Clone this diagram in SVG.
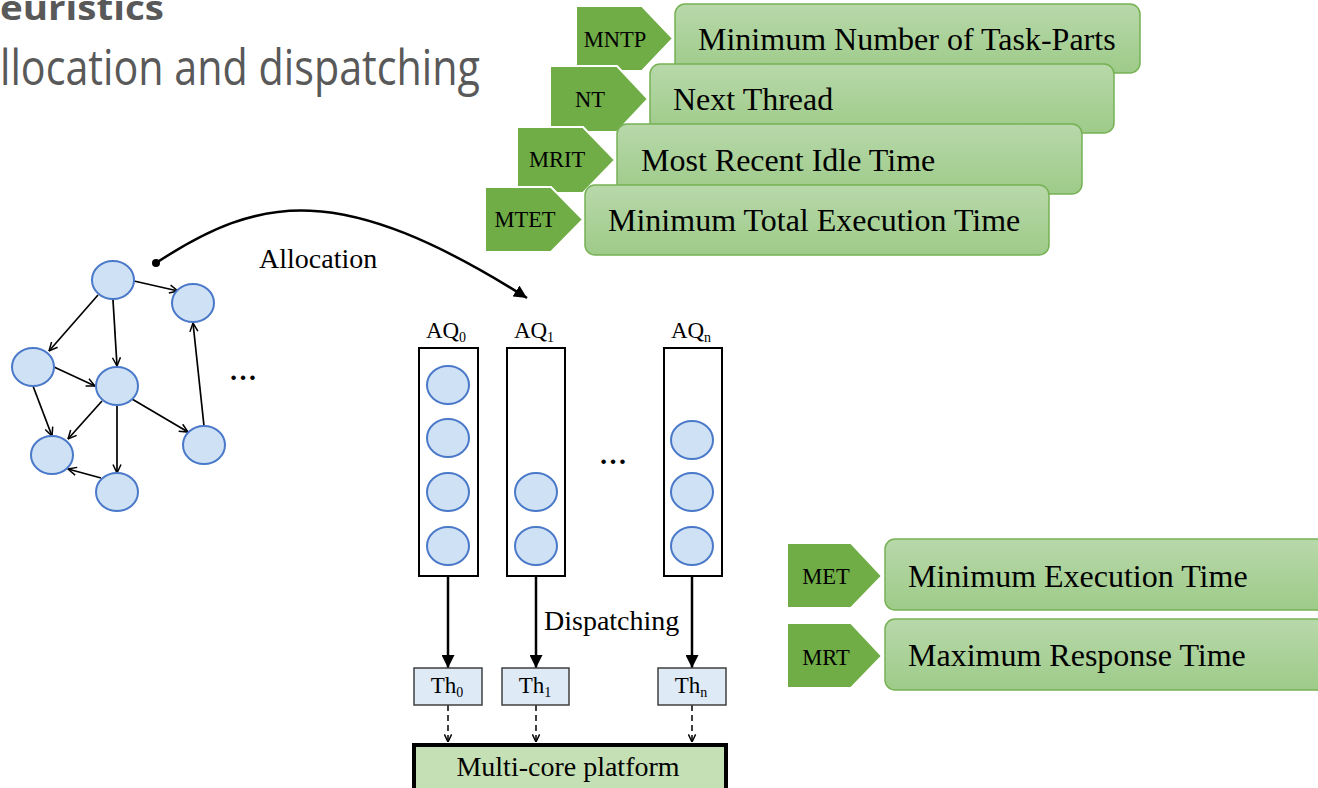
<svg xmlns="http://www.w3.org/2000/svg" width="1318" height="788" viewBox="0 0 1318 788">
<defs>
<linearGradient id="gBox" x1="0" y1="0" x2="0" y2="1">
<stop offset="0" stop-color="#B8D8AA"/>
<stop offset="1" stop-color="#9ECB89"/>
</linearGradient>
<marker id="open" viewBox="0 0 10 10" refX="9.5" refY="5" markerWidth="10" markerHeight="10" markerUnits="userSpaceOnUse" orient="auto">
<path d="M1,1 L9.5,5 L1,9" fill="none" stroke="#000" stroke-width="1.5"/>
</marker>
<marker id="openS" viewBox="0 0 10 10" refX="9.5" refY="5" markerWidth="9" markerHeight="9" markerUnits="userSpaceOnUse" orient="auto">
<path d="M1,1 L9.5,5 L1,9" fill="none" stroke="#000" stroke-width="1.6"/>
</marker>
<marker id="solid" viewBox="0 0 12 12" refX="12" refY="6" markerWidth="13" markerHeight="13" markerUnits="userSpaceOnUse" orient="auto">
<path d="M0,0 L12,6 L0,12 z" fill="#000"/>
</marker>
</defs>
<style>
.box{fill:url(#gBox);stroke:#76B154;stroke-width:1.5}
.tag{fill:#70AD47;stroke:#fff;stroke-width:2}
.tt{font-family:"Liberation Serif",serif;font-size:22.5px;fill:#000;text-anchor:middle}
.bt{font-family:"Liberation Serif",serif;font-size:32px;fill:#000}
.lbl{font-family:"Liberation Serif",serif;font-size:28px;fill:#000}
.q{font-family:"Liberation Serif",serif;font-size:23px;fill:#000;text-anchor:middle}
.node{fill:#CFE1F4;stroke:#4A79C9;stroke-width:2}
.e{stroke:#000;stroke-width:1.7;fill:none;marker-end:url(#open)}
.aq{fill:#fff;stroke:#000;stroke-width:2}
.th{fill:#DEEBF7;stroke:#404040;stroke-width:1.5}
.disp{stroke:#000;stroke-width:2.5;fill:none;marker-end:url(#solid)}
.dash{stroke:#000;stroke-width:1.5;fill:none;stroke-dasharray:6,4;marker-end:url(#openS)}
.hd{font-family:"Open Sans",sans-serif;fill:#595959}
</style>

<g id="header">
<text class="hd" x="0" y="20" font-size="34" font-weight="bold" textLength="164" lengthAdjust="spacingAndGlyphs">euristics</text>
<text class="hd" x="0" y="85" font-size="49" textLength="480" lengthAdjust="spacingAndGlyphs">llocation and dispatching</text>
</g>

<g id="h-mntp">
<rect class="box" x="675" y="4" width="465" height="69" rx="10"/>
<polygon class="tag" points="576,6 642,6 673,38.5 642,71 576,71"/>
<text class="tt" x="615" y="47">MNTP</text>
<text class="bt" x="698" y="50">Minimum Number of Task-Parts</text>
</g>
<g id="h-nt">
<rect class="box" x="650" y="64" width="464" height="69" rx="10"/>
<polygon class="tag" points="550,66 617,66 648,99 617,132 550,132"/>
<text class="tt" x="590" y="107">NT</text>
<text class="bt" x="673" y="110">Next Thread</text>
</g>
<g id="h-mrit">
<rect class="box" x="617" y="124" width="465" height="70" rx="10"/>
<polygon class="tag" points="517,127 583,127 615,160 583,193 517,193"/>
<text class="tt" x="557" y="167">MRIT</text>
<text class="bt" x="641" y="171">Most Recent Idle Time</text>
</g>
<g id="h-mtet">
<rect class="box" x="585" y="185" width="464" height="70" rx="10"/>
<polygon class="tag" points="485,187 551,187 583,219.5 551,252 485,252"/>
<text class="tt" x="525" y="227">MTET</text>
<text class="bt" x="608" y="231">Minimum Total Execution Time</text>
</g>

<g id="h-met">
<rect class="box" x="885" y="539" width="445" height="71" rx="10"/>
<polygon class="tag" points="787,543 851,543 882,576 851,608 787,608"/>
<text class="tt" x="826" y="584">MET</text>
<text class="bt" x="908" y="587" font-size="31">Minimum Execution Time</text>
</g>
<g id="h-mrt">
<rect class="box" x="885" y="619" width="445" height="71" rx="10"/>
<polygon class="tag" points="787,623 851,623 882,656 851,688 787,688"/>
<text class="tt" x="826" y="665">MRT</text>
<text class="bt" x="908" y="666" font-size="31">Maximum Response Time</text>
</g>

<g id="connectors">
<line class="e" x1="134" y1="281" x2="178" y2="291"/>
<line class="e" x1="98" y1="295" x2="49" y2="351"/>
<line class="e" x1="113" y1="300" x2="117" y2="366"/>
<line class="e" x1="54" y1="367" x2="95" y2="386"/>
<line class="e" x1="33" y1="386" x2="52" y2="436"/>
<line class="e" x1="102" y1="401" x2="68" y2="439"/>
<line class="e" x1="117" y1="405" x2="117" y2="473"/>
<line class="e" x1="132" y1="399" x2="188" y2="432"/>
<line class="e" x1="204" y1="426" x2="193" y2="323"/>
<line class="e" x1="101" y1="478" x2="68" y2="469"/>
<circle cx="156" cy="263" r="4" fill="#000"/>
<path d="M156,263 C260,195 340,180 527,298" fill="none" stroke="#000" stroke-width="2.5" marker-end="url(#solid)"/>
<line class="disp" x1="448" y1="576" x2="448" y2="668"/>
<line class="disp" x1="536" y1="576" x2="536" y2="668"/>
<line class="disp" x1="692" y1="576" x2="692" y2="668"/>
<line class="dash" x1="448" y1="705" x2="448" y2="742"/>
<line class="dash" x1="536" y1="705" x2="536" y2="742"/>
<line class="dash" x1="692" y1="705" x2="692" y2="742"/>
</g>

<g id="graph">
<ellipse class="node" cx="113" cy="280" rx="21" ry="19"/>
<ellipse class="node" cx="193" cy="303" rx="21" ry="19"/>
<ellipse class="node" cx="33" cy="367" rx="21" ry="19"/>
<ellipse class="node" cx="117" cy="386" rx="21" ry="19"/>
<ellipse class="node" cx="204" cy="445" rx="21" ry="19"/>
<ellipse class="node" cx="52" cy="455" rx="21" ry="19"/>
<ellipse class="node" cx="117" cy="492" rx="21" ry="19"/>
<text class="lbl" x="243" y="380" text-anchor="middle" font-weight="bold">…</text>
</g>

<g id="labels">
<text class="lbl" x="259" y="268">Allocation</text>
<text class="lbl" x="544" y="630">Dispatching</text>
</g>

<g id="aq0">
<rect class="aq" x="419" y="348" width="59" height="228"/>
<text class="q" x="446" y="338">AQ<tspan font-size="14" dy="4">0</tspan></text>
<ellipse class="node" cx="448" cy="385" rx="21" ry="19"/>
<ellipse class="node" cx="448" cy="438" rx="21" ry="19"/>
<ellipse class="node" cx="448" cy="492" rx="21" ry="19"/>
<ellipse class="node" cx="448" cy="546" rx="21" ry="19"/>
</g>
<g id="aq1">
<rect class="aq" x="507" y="348" width="58" height="228"/>
<text class="q" x="534" y="338">AQ<tspan font-size="14" dy="4">1</tspan></text>
<ellipse class="node" cx="536" cy="492" rx="21" ry="19"/>
<ellipse class="node" cx="536" cy="546" rx="21" ry="19"/>
</g>
<g id="dots-aq">
<text class="lbl" x="613" y="464" text-anchor="middle" font-weight="bold">…</text>
</g>
<g id="aqn">
<rect class="aq" x="664" y="348" width="58" height="228" stroke="#666"/>
<text class="q" x="691" y="338">AQ<tspan font-size="14" dy="4">n</tspan></text>
<ellipse class="node" cx="692" cy="440" rx="21" ry="19"/>
<ellipse class="node" cx="692" cy="492" rx="21" ry="19"/>
<ellipse class="node" cx="692" cy="546" rx="21" ry="19"/>
</g>

<g id="th0">
<rect class="th" x="414" y="668" width="68" height="37"/>
<text class="q" x="447" y="693">Th<tspan font-size="14" dy="4">0</tspan></text>
</g>
<g id="th1">
<rect class="th" x="502" y="668" width="67" height="37"/>
<text class="q" x="535" y="693">Th<tspan font-size="14" dy="4">1</tspan></text>
</g>
<g id="thn">
<rect class="th" x="658" y="668" width="68" height="37"/>
<text class="q" x="691" y="693">Th<tspan font-size="14" dy="4">n</tspan></text>
</g>

<g id="platform">
<rect x="414" y="745" width="312" height="50" fill="#C5E0B4" stroke="#000" stroke-width="4"/>
<text class="lbl" x="568" y="776" text-anchor="middle" font-size="28.5">Multi-core platform</text>
</g>
</svg>
